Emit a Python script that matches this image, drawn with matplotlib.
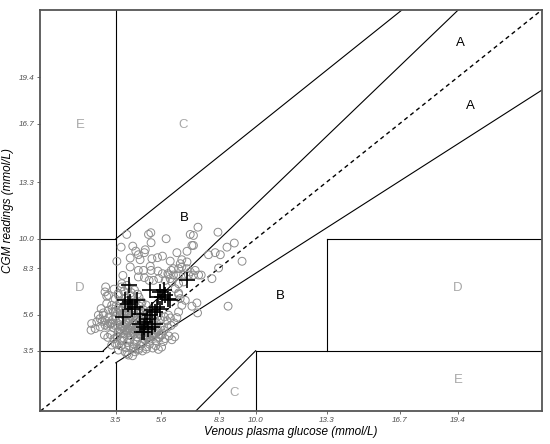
import matplotlib
matplotlib.use("Agg")
import matplotlib.pyplot as plt

plt.rcParams['font.family'] = ['Liberation Sans', 'DejaVu Sans']

# CGM vs venous glucose (mmol/L), open circles
circ_x = [
    4.01, 5.02, 5.13, 5.14, 5.84, 3.75, 4.29, 4.43, 4.55, 4.87, 4.83, 3.55, 4.17, 4.63,
    5.18, 5.44, 5.67, 4.17, 4.55, 4.79, 5.10, 5.14, 5.46, 5.67, 5.92, 6.08, 3.83, 4.55,
    4.83, 5.05, 5.25, 5.50, 5.80, 6.03, 3.78, 4.01, 3.03, 3.08,
    7.32, 6.96, 7.11, 8.25, 7.04, 7.11, 8.67, 9.01, 6.34, 6.81, 8.12, 8.36, 7.81, 6.03,
    6.57, 6.81, 6.50, 9.37, 6.18, 6.42, 6.57, 6.81, 6.96, 7.19, 8.28, 5.95, 6.18, 6.42,
    6.65, 6.88, 7.11, 7.35, 7.47, 7.97, 6.11, 6.42, 6.65, 6.26, 6.42,
    6.57, 7.04, 7.27, 7.30, 8.72, 6.42, 6.34, 5.95, 6.49, 6.73, 6.42,
    2.35, 2.38, 2.62, 2.77, 2.92, 2.69, 2.54, 2.77, 3.00, 3.24, 3.08, 3.31, 3.16, 3.39,
    2.82, 2.92, 3.16, 3.00, 3.62, 3.93, 4.09, 4.40, 4.55, 4.32, 3.78, 3.47, 3.31, 3.55,
    4.71, 4.87, 5.02,
    # dense core
    3.42, 3.61, 3.77, 3.88, 4.06, 4.22, 4.37, 4.51, 3.47, 3.63, 3.71, 3.96, 4.08, 4.24,
    4.41, 4.58, 4.72, 3.52, 3.69, 3.83, 3.91, 4.13, 4.27, 4.36, 4.62, 4.78, 4.91, 3.58,
    3.74, 3.87, 4.02, 4.19, 4.33, 4.47, 4.69, 4.82, 4.97, 5.12, 3.66, 3.81, 3.98, 4.11,
    4.28, 4.43, 4.57, 4.73, 4.88, 5.07, 5.22, 5.39, 3.79, 3.93, 4.07, 4.21, 4.38, 4.52,
    4.67, 4.83, 4.98, 5.17, 5.28, 5.43, 5.58, 3.86, 4.03, 4.18, 4.31, 4.49, 4.61, 4.78,
    4.94, 5.08, 5.26, 5.37, 5.52, 5.71, 3.33, 3.48, 3.64, 3.79, 3.94, 4.12, 4.23, 4.39,
    4.56, 4.68, 4.87, 5.03, 5.14, 5.31, 5.47, 5.59, 5.76, 5.88, 6.04, 3.18, 3.37, 3.49,
    3.67, 3.82, 3.97, 4.09, 4.26, 4.42, 4.54, 4.71, 4.86, 5.01, 5.18, 5.29, 5.46, 5.62,
    5.73, 5.91, 6.07, 6.21, 3.12, 3.28, 3.39, 3.57, 3.69, 3.84, 4.01, 4.14, 4.29, 4.46,
    4.63, 4.74, 4.92, 5.06, 5.21, 5.34, 5.51, 5.66, 5.79, 5.97, 6.11, 6.24, 2.97, 3.13,
    3.26, 3.41, 3.58, 3.72, 3.87, 4.04, 4.16, 4.34, 4.47, 4.62, 4.76, 4.93, 5.07, 5.22,
    5.36, 5.48, 5.63, 2.86, 3.02, 3.14, 3.33, 3.46, 3.61, 3.76, 3.91, 4.07, 4.19, 4.36,
    4.51, 4.64, 4.81, 4.96, 5.11, 3.56, 3.74, 3.97, 4.13, 4.33, 4.57, 4.74, 4.92, 4.02,
    4.28, 4.03, 4.31, 4.68,
]
circ_y = [
    10.26, 10.26, 10.36, 9.78, 10.01, 9.52, 9.58, 9.29, 9.08, 9.37, 9.20, 8.70, 8.89, 8.79,
    8.85, 8.91, 9.00, 8.37, 8.17, 8.17, 8.41, 8.17, 8.13, 7.98, 7.98, 8.17, 7.88, 7.79,
    7.75, 7.59, 7.59, 7.70, 7.59, 7.69, 7.40, 7.30, 7.21, 6.67,
    10.68, 10.26, 10.20, 10.39, 9.62, 9.62, 9.52, 9.76, 9.20, 9.28, 9.20, 9.08, 9.08, 8.71,
    8.79, 8.66, 8.56, 8.70, 8.27, 8.27, 8.37, 8.27, 8.08, 8.17, 8.31, 7.90, 7.90, 7.90,
    7.90, 7.90, 7.90, 7.90, 7.90, 7.69, 7.50, 7.40, 7.50, 7.11, 6.86,
    6.14, 6.09, 6.28, 5.70, 6.09, 5.76, 5.43, 5.57, 6.53, 6.43, 6.78,
    4.70, 5.08, 5.18, 5.37, 5.57, 5.57, 4.79, 4.89, 4.99, 5.08, 6.24, 6.14, 5.86, 5.76,
    5.95, 5.70, 6.72, 6.92, 3.54, 3.44, 3.25, 3.44, 3.63, 3.73, 4.12, 3.92, 3.83, 4.31,
    3.92, 4.12, 4.31,
    # dense core
    7.08, 6.83, 7.21, 6.95, 7.12, 6.88, 7.03, 6.79, 6.52, 6.71, 6.38, 6.57, 6.44, 6.69,
    6.36, 6.61, 6.33, 6.12, 6.27, 5.98, 6.14, 6.03, 6.22, 5.91, 6.08, 5.89, 6.16, 5.71,
    5.86, 5.59, 5.77, 5.52, 5.68, 5.49, 5.74, 5.41, 5.63, 5.38, 5.31, 5.44, 5.18, 5.37,
    5.09, 5.29, 5.02, 5.22, 4.97, 5.18, 4.93, 5.11, 4.88, 5.03, 4.79, 4.94, 4.71, 4.86,
    4.62, 4.78, 4.56, 4.72, 4.49, 4.66, 4.42, 4.49, 4.63, 4.38, 4.54, 4.31, 4.47, 4.22,
    4.39, 4.18, 4.33, 4.09, 4.26, 4.03, 5.93, 5.78, 5.97, 5.66, 5.83, 5.61, 5.79, 5.56,
    5.74, 5.48, 5.62, 5.44, 5.59, 5.33, 5.52, 5.29, 5.47, 5.24, 5.41, 5.46, 5.31, 5.49,
    5.22, 5.36, 5.13, 5.28, 5.03, 5.19, 4.96, 5.12, 4.88, 5.06, 4.82, 4.99, 4.76, 4.93,
    4.69, 4.88, 4.97, 5.12, 4.93, 5.07, 4.84, 4.98, 4.76, 4.91, 4.68, 4.83, 4.59, 4.74,
    4.51, 4.66, 4.43, 4.58, 4.36, 4.52, 4.29, 4.44, 4.21, 4.36, 4.14, 4.31, 4.41, 4.28,
    4.44, 4.19, 4.33, 4.08, 4.24, 3.98, 4.13, 3.89, 4.04, 3.81, 3.96, 3.73, 3.88, 3.66,
    3.79, 3.58, 3.71, 5.21, 5.26, 5.08, 5.13, 4.97, 4.62, 4.54, 4.71, 4.52, 4.67, 4.47,
    4.63, 4.41, 4.56, 4.29, 4.48, 3.87, 3.78, 3.69, 3.77, 3.61, 3.56, 3.49, 3.60, 3.32,
    3.21, 6.37, 6.29, 6.21,
]

# reference samples, crosses
plus_x = [4.13, 3.93, 4.09, 4.17, 4.48, 3.85, 4.25, 4.40, 4.63, 4.63, 4.79, 4.87, 5.02,
          4.71, 4.94, 5.10, 5.18, 5.33, 5.10, 5.56, 5.72, 5.64, 5.80, 5.95, 6.03, 5.48,
          5.41, 5.56, 6.81, 5.18, 5.33, 4.79]
plus_y = [7.30, 6.43, 6.20, 6.34, 6.47, 5.47, 5.95, 6.05, 5.66, 5.08, 4.89, 5.18, 4.79,
          4.60, 5.37, 5.57, 5.86, 5.76, 7.01, 6.92, 7.01, 6.63, 6.72, 6.53, 6.43, 6.63,
          6.05, 5.95, 7.59, 4.89, 5.08, 4.60]

# error-grid parameters (mmol/L)
lo = 3.5
hi = 10.0
mid = 13.3
top = 23.3
c_foot = 7.22

zone_lbl = ['A', 'A', 'B', 'B', 'C', 'C', 'D', 'D', 'E', 'E']
zone_x = [19.5, 20.0, 6.68, 11.15, 6.63, 9.0, 1.84, 19.4, 1.84, 19.4]
zone_y = [21.4, 17.7, 11.2, 6.67, 16.6, 1.04, 7.13, 7.13, 16.6, 1.8]

ticks = [3.5, 5.6, 8.3, 10.0, 13.3, 16.7, 19.4]

fig = plt.figure(figsize=(5.5, 4.44), dpi=100)
ax = fig.add_axes([0.0736, 0.0743, 0.9114, 0.9032])

lk = dict(color='black', lw=0.8)
ax.plot([0, top], [0, top], color='black', lw=1.0, ls=(0, (3, 2.5)))
ax.plot([0, lo / 1.2], [lo, lo], **lk)
ax.plot([lo / 1.2, top / 1.2], [lo, top], **lk)
ax.plot([lo, lo], [lo * 1.2, top], **lk)
ax.plot([0, lo], [hi, hi], **lk)
ax.plot([lo, top - (hi - lo)], [hi, top], **lk)
ax.plot([lo, lo], [0, lo * 0.8], **lk)
ax.plot([lo, top], [lo * 0.8, top * 0.8], **lk)
ax.plot([hi, hi], [0, lo], **lk)
ax.plot([hi, top], [lo, lo], **lk)
ax.plot([mid, mid], [lo, hi], **lk)
ax.plot([mid, top], [hi, hi], **lk)
ax.plot([c_foot, hi], [0, lo], **lk)

ax.scatter(circ_x, circ_y, s=32, facecolors='none', edgecolors='#8c8c8c',
           linewidths=0.7, zorder=3)
ax.scatter(plus_x, plus_y, s=140, marker='+', color='black', linewidths=1.2, zorder=4)

for t, x, y in zip(zone_lbl, zone_x, zone_y):
    col = 'black' if t in 'AB' else '#a8a8a8'
    ax.text(x, y, t, ha='center', va='center', fontsize=9.5, color=col)

ax.set_xlim(0, top)
ax.set_ylim(0, top)
ax.set_xticks(ticks)
ax.set_yticks(ticks)
ax.set_xticklabels([f'{t:.1f}' for t in ticks], fontsize=5.8, style='italic', color='#4d4d4d')
ax.set_yticklabels([f'{t:.1f}' for t in ticks], fontsize=5.8, style='italic', color='#4d4d4d')
ax.tick_params(length=2.5, width=0.6, color='#555555', pad=2)
for s in ax.spines.values():
    s.set_color('#555555')
    s.set_linewidth(1.3)
ax.set_xlabel('Venous plasma glucose (mmol/L)', fontsize=8.5, style='italic', labelpad=1)
ax.set_ylabel('CGM readings (mmol/L)', fontsize=8.5, style='italic', labelpad=3)

fig.savefig('out.png', dpi=100)
